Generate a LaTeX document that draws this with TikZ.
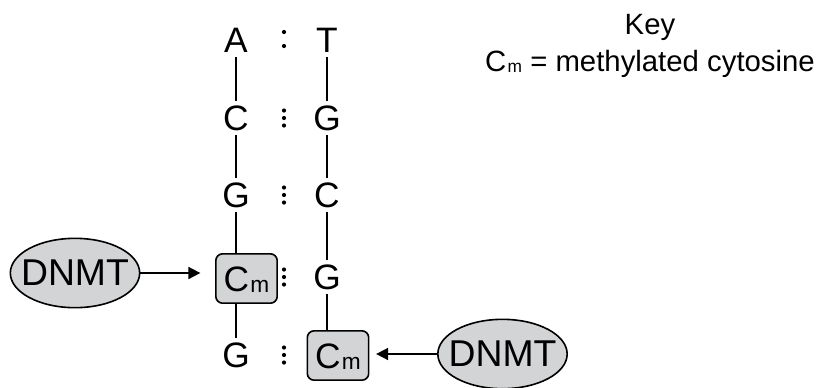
\documentclass[tikz,border=0pt]{standalone}
\usepackage{fontspec}
\setmainfont{Liberation Sans}
\usepackage{tikz}
\usepackage{xcolor}
\usetikzlibrary{arrows.meta,shapes.geometric}

\definecolor{enzgray}{RGB}{211,212,214}
\newcommand\metC[1]{C\kern1pt\raisebox{-1pt}{\fontsize{#1}{#1}\selectfont m}}

\tikzset{
  base/.style={font=\fontsize{26.5}{30}\selectfont,inner sep=3pt,text height=19pt,text depth=0pt},
  mbox/.style={base,draw,fill=enzgray,rounded corners=5pt,line width=1.2pt,inner sep=0pt,minimum width=46pt,minimum height=37pt},
  enzyme/.style={ellipse,draw,fill=enzgray,line width=1.2pt,minimum width=97pt,minimum height=52pt,inner xsep=-8pt,inner ysep=0pt,text height=19pt,text depth=0pt,font=\fontsize{28}{32}\selectfont},
  strand/.style={line width=1.3pt},
  push/.style={line width=1.3pt,-{Triangle[length=9pt,width=9pt]}},
  keytext/.style={font=\fontsize{22}{26}\selectfont,inner sep=0pt}
}

\begin{document}
\begin{tikzpicture}[x=0.75pt,y=-0.75pt]
\useasboundingbox (0,0) rectangle (821,387);
% left strand
\node[base] (a1) at (236,40) {A};
\node[base] (c1) at (236,118) {C};
\node[base] (g1) at (236,195) {G};
\node[mbox] (ml) at (246.5,278.5) {\metC{17}};
\node[base] (g2) at (236,355) {G};
% right strand
\node[base] (t1) at (327,40) {T};
\node[base] (g3) at (327,118) {G};
\node[base] (c2) at (327,195) {C};
\node[base] (g4) at (327,277) {G};
\node[mbox] (mr) at (338,355.5) {\metC{17}};
% backbone
\draw[strand] (a1.south) -- (c1.north);
\draw[strand] (c1.south) -- (g1.north);
\draw[strand] (g1.south) -- (g1.south |- ml.north);
\draw[strand] (g2.north |- ml.south) -- (g2.north);
\draw[strand] (t1.south) -- (g3.north);
\draw[strand] (g3.south) -- (c2.north);
\draw[strand] (c2.south) -- (g4.north);
\draw[strand] (g4.south) -- (g4.south |- mr.north);
% base pairs
\fill (284,32) circle (2.1) (284,46) circle (2.1);
\foreach \y in {118,195,277,355}
  \foreach \d in {-7.5,0,7.5}
    \fill (284,\y+\d) circle (2.1);
% enzymes
\node[enzyme] (dl) at (75,273) {DNMT};
\node[enzyme] (dr) at (502.5,354) {DNMT};
\draw[push,shorten >=11pt] (dl.east) -- (dl.east -| ml.west);
\draw[push,shorten >=5pt] (dr.west) -- (dr.west -| mr.east);
% key
\node[keytext] (key) at (650,27) {Key};
\node[keytext] (keyc) at (650,64) {\metC{13} = methylated cytosine};
\end{tikzpicture}
\end{document}
